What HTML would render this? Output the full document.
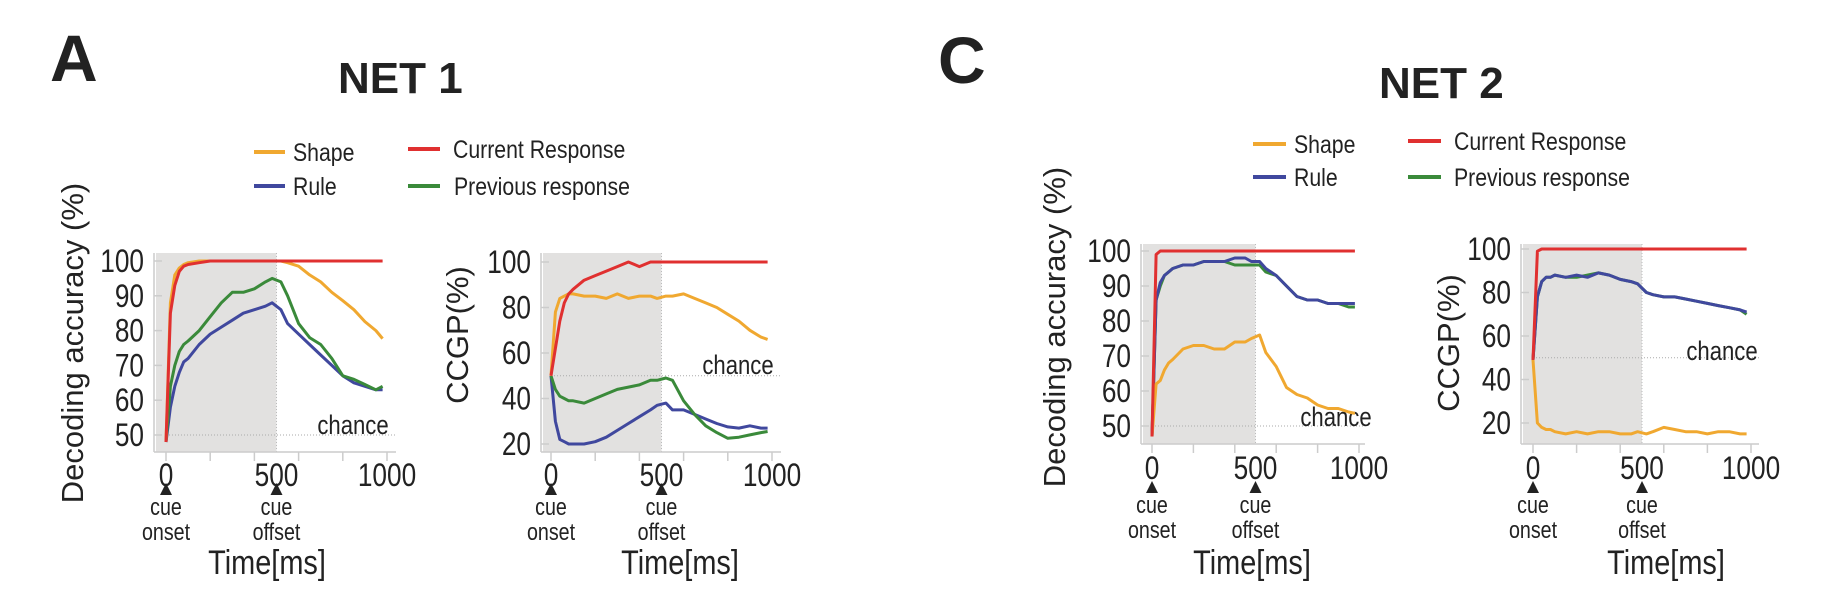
<!DOCTYPE html>
<html><head><meta charset="utf-8"><style>
html,body{margin:0;padding:0;background:#fff;}
svg{display:block;font-family:"Liberation Sans",Arial,sans-serif;}
</style></head><body>
<svg id="fig" width="1840" height="594" viewBox="0 0 1840 594">
<text x="50" y="81" font-size="66" font-weight="bold" fill="#222">A</text>
<text x="338" y="93" font-size="44" font-weight="bold" fill="#222">NET 1</text>
<text x="938" y="83" font-size="66" font-weight="bold" fill="#222">C</text>
<text x="1379" y="98" font-size="44" font-weight="bold" fill="#222">NET 2</text>
<g>
<line x1="254" y1="152" x2="285" y2="152" stroke="#f0a830" stroke-width="4"/><text transform="translate(293,161) scale(0.85,1)" font-size="25" fill="#222">Shape</text>
<line x1="254" y1="186" x2="285" y2="186" stroke="#40489e" stroke-width="4"/><text transform="translate(293,195) scale(0.85,1)" font-size="25" fill="#222">Rule</text>
<line x1="408" y1="149" x2="440" y2="149" stroke="#e03030" stroke-width="4"/><text transform="translate(453,158) scale(0.85,1)" font-size="25" fill="#222">Current Response</text>
<line x1="408" y1="186" x2="440" y2="186" stroke="#3a8a3a" stroke-width="4"/><text transform="translate(454,195) scale(0.85,1)" font-size="25" fill="#222">Previous response</text>
</g>
<g>
<line x1="1253" y1="144" x2="1286" y2="144" stroke="#f0a830" stroke-width="4"/><text transform="translate(1294,153) scale(0.85,1)" font-size="25" fill="#222">Shape</text>
<line x1="1253" y1="177" x2="1286" y2="177" stroke="#40489e" stroke-width="4"/><text transform="translate(1294,186) scale(0.85,1)" font-size="25" fill="#222">Rule</text>
<line x1="1408" y1="141" x2="1441" y2="141" stroke="#e03030" stroke-width="4"/><text transform="translate(1454,150) scale(0.85,1)" font-size="25" fill="#222">Current Response</text>
<line x1="1408" y1="177" x2="1441" y2="177" stroke="#3a8a3a" stroke-width="4"/><text transform="translate(1454,186) scale(0.85,1)" font-size="25" fill="#222">Previous response</text>
</g>
</svg>
<script>
const times = [0,20,40,60,80,100,150,200,250,300,350,400,450,480,520,550,600,650,700,750,800,850,900,950,980];
const xTicks = [0,500,1000];
const accTicks = [50,60,70,80,90,100];
const ccgpTicks = [20,40,60,80,100];

const a1Red = [48,85,93,97,98.5,99,99.5,100,100,100,100,100,100,100,100,100,100,100,100,100,100,100,100,100,100];
const a1Orange = [48,88,96,98,99,99.5,100,100,100,100,100,100,100,100,100,99.5,98.5,96,94,91,88.6,86,82.6,80,77.7];
const a1Green = [48,64,70,74,76,77,80,84,88,91,91,92,94,95,94,90,82,78,76,72,67,66,64.5,63,64];
const a1Blue = [48,58,64,68,71,72,76,79,81,83,85,86,87,88,86,82,79,76,73,70,67,65,64,63,63];

const a2Red = [50,62,74,82,86,88,92,94,96,98,100,98,100,100,100,100,100,100,100,100,100,100,100,100,100];
const a2Orange = [50,78,84,85,86,86,85,85,84,86,84,85,85,84,85,85,86,84,82,80,77,74,70,67,66];
const a2Green = [50,44,41,40,39,39,38,40,42,44,45,46,48,48,49,48,39,33,28,25,22.5,23,24,25,25.5];
const a2Blue = [50,30,22,21,20,20,20,21,23,26,29,32,35,37,38,35,35,33,31,29,27.5,27,28,27,27];

const c1Red = [47,99,100,100,100,100,100,100,100,100,100,100,100,100,100,100,100,100,100,100,100,100,100,100,100];
const c1Orange = [47,62,63,66,68,69,72,73,73,72,72,74,74,75,76,71,67,61,59,58,56,55,55,54,53.6];
const c1Green = [47,86,90,93,94,95,96,96,97,97,97,96,96,96,96,94,93,90,87,86,86,85,85,84,84];
const c1Blue = [47,86,91,93,94,95,96,96,97,97,97,98,98,97,97,95,93,90,87,86,86,85,85,85,85];

const c2Red = [49,99,100,100,100,100,100,100,100,100,100,100,100,100,100,100,100,100,100,100,100,100,100,100,100];
const c2Orange = [49,20,18,17,17,16,15,16,15,16,16,15,15,16,15,16,18,17,16,16,15,16,16,15,15];
const c2Green = [49,78,85,87,87,88,87,87,88,89,88,86,85,84,80,79,78,78,77,76,75,74,73,72,70];
const c2Blue = [49,78,85,87,87,88,87,88,87,89,88,86,85,84,80,79,78,78,77,76,75,74,73,72,71];

const NS = 'http://www.w3.org/2000/svg';
const svg = document.getElementById('fig');
function mk(tag, attrs, parent, txt){
  const e = document.createElementNS(NS, tag);
  for (const k in attrs) e.setAttribute(k, attrs[k]);
  if (txt !== undefined) e.textContent = txt;
  parent.appendChild(e);
  return e;
}
function ctext(parent, x, y, size, anchor, txt, sc){
  return mk('text', {transform:`translate(${x},${y}) scale(${sc||0.82},1)`, 'font-size':size, fill:'#222', 'text-anchor':anchor}, parent, txt);
}
function panel(p){
  const g = mk('g', {}, svg);
  
  
  const sx = v => p.x0 + (v/1000)*(p.x1000 - p.x0);
  const sy = v => p.yHi + (p.vHi - v)/(p.vHi - p.vLo)*(p.yLo - p.yHi);
  const shade = mk('rect', {x: p.axX+2, y: p.top, width: sx(500)-p.axX-2, height: p.axY-p.top, fill:'#e2e1e0'}, g);
  
  
  mk('line', {x1:sx(500), y1:p.top, x2:sx(500), y2:p.axY, stroke:'#bbb', 'stroke-width':1, 'stroke-dasharray':'1,2'}, g);
  const ch = mk('line', {x1:sx(0), y1:sy(50), x2:p.axEnd, y2:sy(50), stroke:'#aaa', 'stroke-width':1, 'stroke-dasharray':'1,2'}, g);
  
  
  const cl = ctext(g, p.chanceX, p.chanceY, 27, 'middle', 'chance');
  
  
  mk('line', {x1:p.axX, y1:p.top, x2:p.axX, y2:p.axY, stroke:'#ccc', 'stroke-width':1.5}, g);
  mk('line', {x1:p.axX, y1:p.axY, x2:p.axEnd, y2:p.axY, stroke:'#ccc', 'stroke-width':1.5}, g);
  for (let t = 0; t <= 1000; t += 200) mk('line', {x1:sx(t), y1:p.axY, x2:sx(t), y2:p.axY+9, stroke:'#ccc', 'stroke-width':1.5}, g);
  p.yTicks.forEach(v => {
    mk('line', {x1:p.axX, y1:sy(v), x2:p.axX+8, y2:sy(v), stroke:'#ccc', 'stroke-width':1.5}, g);
    const t = ctext(g, p.axX-10, sy(v)+11, 32, 'end', String(v));
    
    
  });
  xTicks.forEach(v => {
    const t = ctext(g, sx(v), p.xlabY+11, 32, 'middle', String(v));
    
    
  });
  [[0,'onset'],[500,'offset']].forEach(([v,w]) => {
    const x = sx(v);
    mk('polygon', {points:`${x-6},${p.triY+6} ${x+6},${p.triY+6} ${x},${p.triY-6}`, fill:'#222'}, g);
    const a = ctext(g, x, p.triY+26, 24, 'middle', 'cue');
    
    
    const b = ctext(g, x, p.triY+51, 24, 'middle', w);
    
    
  });
  const xt = ctext(g, p.xTitleX, 574, 34, 'middle', 'Time[ms]', 0.85);
  
  
  const yt = mk('text', {x:0, y:0, 'font-size':p.yTitleSize, fill:'#222', 'text-anchor':'middle', transform:`translate(${p.yTitleX+11},${p.yTitleY}) rotate(-90)`}, g, p.yTitle);
  
  
  p.series.forEach(s => {
    const d = times.map((t,i) => (i ? 'L' : 'M') + sx(t).toFixed(1) + ',' + sy(s.vals[i]).toFixed(1)).join(' ');
    const path = mk('path', {d:d, fill:'none', stroke:s.color, 'stroke-width':3, 'stroke-linejoin':'round'}, g);
    
    
  });
}
const O='#f0a830', R='#e03030', B='#40489e', G='#3a8a3a';
panel({name:'net1-decoding-chart', x0:166, x1000:387, axX:154, axEnd:396, top:253, axY:452, yHi:261, vHi:100, yLo:435, vLo:50,
  yTicks:accTicks, xlabY:475, triY:489, xTitleX:267, yTitleX:72, yTitleY:343, yTitleSize:31, yTitle:'Decoding accuracy (%)', chanceX:353, chanceY:434,
  series:[{name:'line-rule',vals:a1Blue,color:B},{name:'line-previous-response',vals:a1Green,color:G},{name:'line-shape',vals:a1Orange,color:O},{name:'line-current-response',vals:a1Red,color:R}]});
panel({name:'net1-ccgp-chart', x0:551, x1000:772, axX:541, axEnd:781, top:253, axY:452, yHi:262, vHi:100, yLo:444, vLo:20,
  yTicks:ccgpTicks, xlabY:475, triY:489, xTitleX:680, yTitleX:457, yTitleY:335, yTitleSize:31, yTitle:'CCGP(%)', chanceX:738, chanceY:374,
  series:[{name:'line-rule',vals:a2Blue,color:B},{name:'line-previous-response',vals:a2Green,color:G},{name:'line-shape',vals:a2Orange,color:O},{name:'line-current-response',vals:a2Red,color:R}]});
panel({name:'net2-decoding-chart', x0:1152, x1000:1359, axX:1141, axEnd:1365, top:244, axY:444, yHi:251, vHi:100, yLo:426, vLo:50,
  yTicks:accTicks, xlabY:468, triY:487, xTitleX:1252, yTitleX:1054, yTitleY:327, yTitleSize:31, yTitle:'Decoding accuracy (%)', chanceX:1336, chanceY:426,
  series:[{name:'line-previous-response',vals:c1Green,color:G},{name:'line-rule',vals:c1Blue,color:B},{name:'line-shape',vals:c1Orange,color:O},{name:'line-current-response',vals:c1Red,color:R}]});
panel({name:'net2-ccgp-chart', x0:1533, x1000:1751, axX:1521, axEnd:1759, top:244, axY:444, yHi:249, vHi:100, yLo:423, vLo:20,
  yTicks:ccgpTicks, xlabY:468, triY:487, xTitleX:1666, yTitleX:1448, yTitleY:343, yTitleSize:31, yTitle:'CCGP(%)', chanceX:1722, chanceY:360,
  series:[{name:'line-previous-response',vals:c2Green,color:G},{name:'line-rule',vals:c2Blue,color:B},{name:'line-shape',vals:c2Orange,color:O},{name:'line-current-response',vals:c2Red,color:R}]});
</script>
</body></html>
